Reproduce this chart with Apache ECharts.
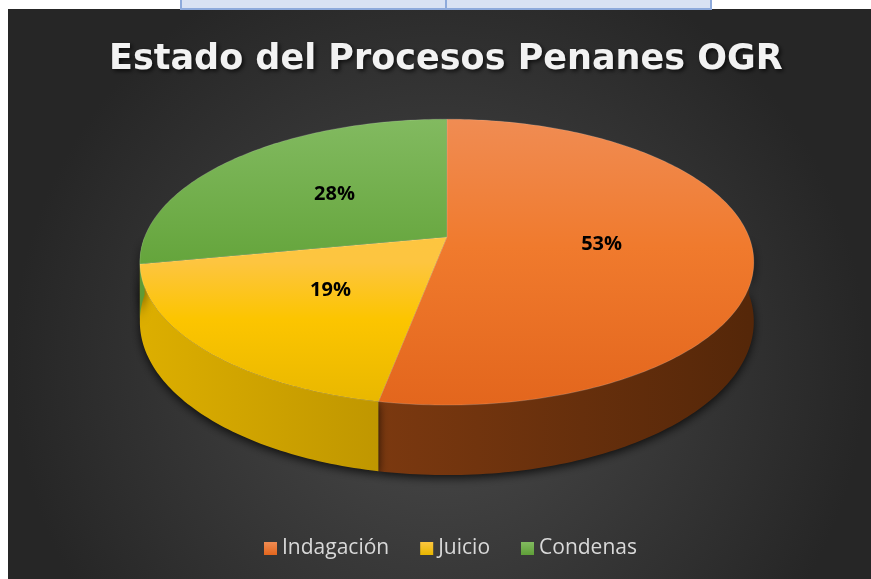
<!DOCTYPE html>
<html>
<head>
<meta charset="utf-8">
<script src="https://cdn.jsdelivr.net/npm/echarts@6/dist/echarts.min.js"></script>
<style>
  html, body { margin: 0; padding: 0; background: #fff; }
  #chart { width: 871px; height: 579px; }
</style>
</head>
<body>
<div id="chart"></div>
<script>
// 数据
let categories = ['Indagación', 'Juicio', 'Condenas'];
let values = [53, 19, 28];
let titleText = 'Estado del Procesos Penanes OGR';

// 颜色：上表面渐变（上->下）、侧面（左->右）
let topColors = [
    [[0, '#f08c53'], [0.45, '#f07a2d'], [1, '#e3661d']],
    [[0, '#fdc640'], [0.5, '#fdc540'], [0.7, '#fcc500'], [1, '#e8b700']],
    [[0, '#82ba60'], [0.5, '#65a53c'], [1, '#5f9f38']]
];
let legendColors = ['#ed7d31', '#ffc000', '#70ad47'];
let wallColors = [['#934414', '#552709'], ['#dcae00', '#937200'], ['#5f9a35', '#3c6620']];

let total = values.reduce(function (s, v) { return s + v; }, 0);

// 3D 饼图几何参数（相对画布尺寸）
function geom(api) {
    let w = api.getWidth(), h = api.getHeight();
    return {cx: w * 0.513, cy: h * 0.4095, rx: w * 0.347, ry: h * 0.2394, k: 0.175, t: h * 0.0997};
}

// 圆盘上的点投影到屏幕，theta 从 12 点方向顺时针
function proj(g, theta, r, z) {
    let u = r * Math.sin(theta);
    let v = -r * Math.cos(theta);
    let w = 1 - g.k * v;
    return [g.cx + g.rx * u / w, g.cy + (g.ry * v + g.t * z) / w];
}

function arcPoints(g, a, b, z, rev) {
    let pts = [];
    let n = Math.max(2, Math.ceil((b - a) / (Math.PI / 180)));
    for (let i = 0; i <= n; i++) {
        let th = a + (b - a) * i / n;
        pts.push(proj(g, th, 1, z));
    }
    if (rev) pts.reverse();
    return pts;
}

function makeRender(idx) {
    return function (params, api) {
        let g = geom(api);
        let start = 0;
        for (let i = 0; i < idx; i++) start += values[i];
        let a = start / total * Math.PI * 2;
        let b = (start + api.value(0)) / total * Math.PI * 2;
        let children = [];

        // 侧面（只画前半部分）
        let wa = Math.max(a, Math.PI / 2), wb = Math.min(b, Math.PI * 1.5);
        if (wb > wa) {
            let pts = arcPoints(g, wa, wb, 0, false).concat(arcPoints(g, wa, wb, 1, true));
            children.push({
                type: 'polygon',
                z2: 1,
                shape: {points: pts},
                style: {
                    fill: new echarts.graphic.LinearGradient(g.cx - g.rx, 0, g.cx + g.rx, 0, [
                        {offset: 0, color: wallColors[idx][0]},
                        {offset: 1, color: wallColors[idx][1]}
                    ], true),
                    shadowBlur: 10,
                    shadowColor: 'rgba(0,0,0,0.75)',
                    shadowOffsetY: 3
                }
            });
        }

        // 上表面
        let topPts = [proj(g, 0, 0, 0)].concat(arcPoints(g, a, b, 0, false));
        let yTop = g.cy - g.ry / (1 + g.k), yBot = g.cy + g.ry / (1 - g.k);
        children.push({
            type: 'polygon',
            z2: 10,
            shape: {points: topPts},
            style: {
                fill: new echarts.graphic.LinearGradient(0, yTop, 0, yBot, topColors[idx].map(function (s) {
                    return {offset: s[0], color: s[1]};
                }), true),
                stroke: 'rgba(255,255,255,0.25)',
                lineWidth: 0.6
            }
        });

        // 百分比标签
        let mid = (a + b) / 2;
        let lp = proj(g, mid, 0.51, 0);
        children.push({
            type: 'text',
            z2: 20,
            x: lp[0],
            y: lp[1],
            style: {
                text: Math.round(api.value(0) / total * 100) + '%',
                fill: '#000',
                font: 'bold 20px "Open Sans"',
                align: 'center',
                verticalAlign: 'middle'
            }
        });
        return {type: 'group', children: children};
    };
}

let chart = echarts.init(document.getElementById('chart'));

let series = [];
for (let i = 0; i < categories.length; i++) {
    series.push({
        name: categories[i],
        type: 'custom',
        coordinateSystem: 'none',
        itemStyle: {color: legendColors[i]},
        renderItem: makeRender(i),
        data: [[values[i]]]
    });
}

let option = {
    backgroundColor: '#ffffff',
    animation: false,
    graphic: [
        {
            type: 'rect', z: -10, silent: true,
            shape: {x: 8, y: 9, width: 863, height: 570},
            style: {
                fill: new echarts.graphic.RadialGradient(0.5, 0.62, 0.75, [
                    {offset: 0, color: '#4b4b4b'},
                    {offset: 1, color: '#262626'}
                ])
            }
        },
        // 顶部残留表格
        {
            type: 'rect', z: -9, silent: true,
            shape: {x: 181, y: -4, width: 530, height: 13},
            style: {fill: '#d9e2f3', stroke: '#8eaadb', lineWidth: 2}
        },
        {
            type: 'line', z: -9, silent: true,
            shape: {x1: 446, y1: 0, x2: 446, y2: 9},
            style: {stroke: '#8eaadb', lineWidth: 2}
        },
        {
            type: 'text', z: -8, silent: true, x: 198, y: 3,
            style: {text: 'Condenas', font: 'bold 18px "Open Sans"', fill: '#000', verticalAlign: 'bottom'}
        },
        {
            type: 'text', z: -8, silent: true, x: 580, y: 3,
            style: {text: '55', font: 'bold 18px "Open Sans"', fill: '#000', align: 'center', verticalAlign: 'bottom'}
        }
    ],
    title: {
        text: titleText,
        left: 104,
        top: 37,
        textStyle: {
            color: '#f2f2f2',
            fontSize: 35,
            fontWeight: 'bold',
            fontFamily: 'DejaVu Sans',
            textShadowColor: 'rgba(0,0,0,0.7)',
            textShadowBlur: 4,
            textShadowOffsetX: 2,
            textShadowOffsetY: 2
        }
    },
    legend: {
        data: categories.map(function (c, i) {
            return {
                name: c,
                itemStyle: {
                    color: new echarts.graphic.LinearGradient(0, 0, 0, 1, [
                        {offset: 0, color: topColors[i][0][1]},
                        {offset: 1, color: topColors[i][topColors[i].length - 1][1]}
                    ])
                }
            };
        }),
        top: 533,
        left: 259,
        icon: 'rect',
        itemWidth: 13,
        itemHeight: 13,
        itemGap: 31,
        textStyle: {color: '#d9d9d9', fontSize: 21, fontFamily: 'Open Sans'}
    },
    series: series
};

chart.setOption(option);
</script>
</body>
</html>
